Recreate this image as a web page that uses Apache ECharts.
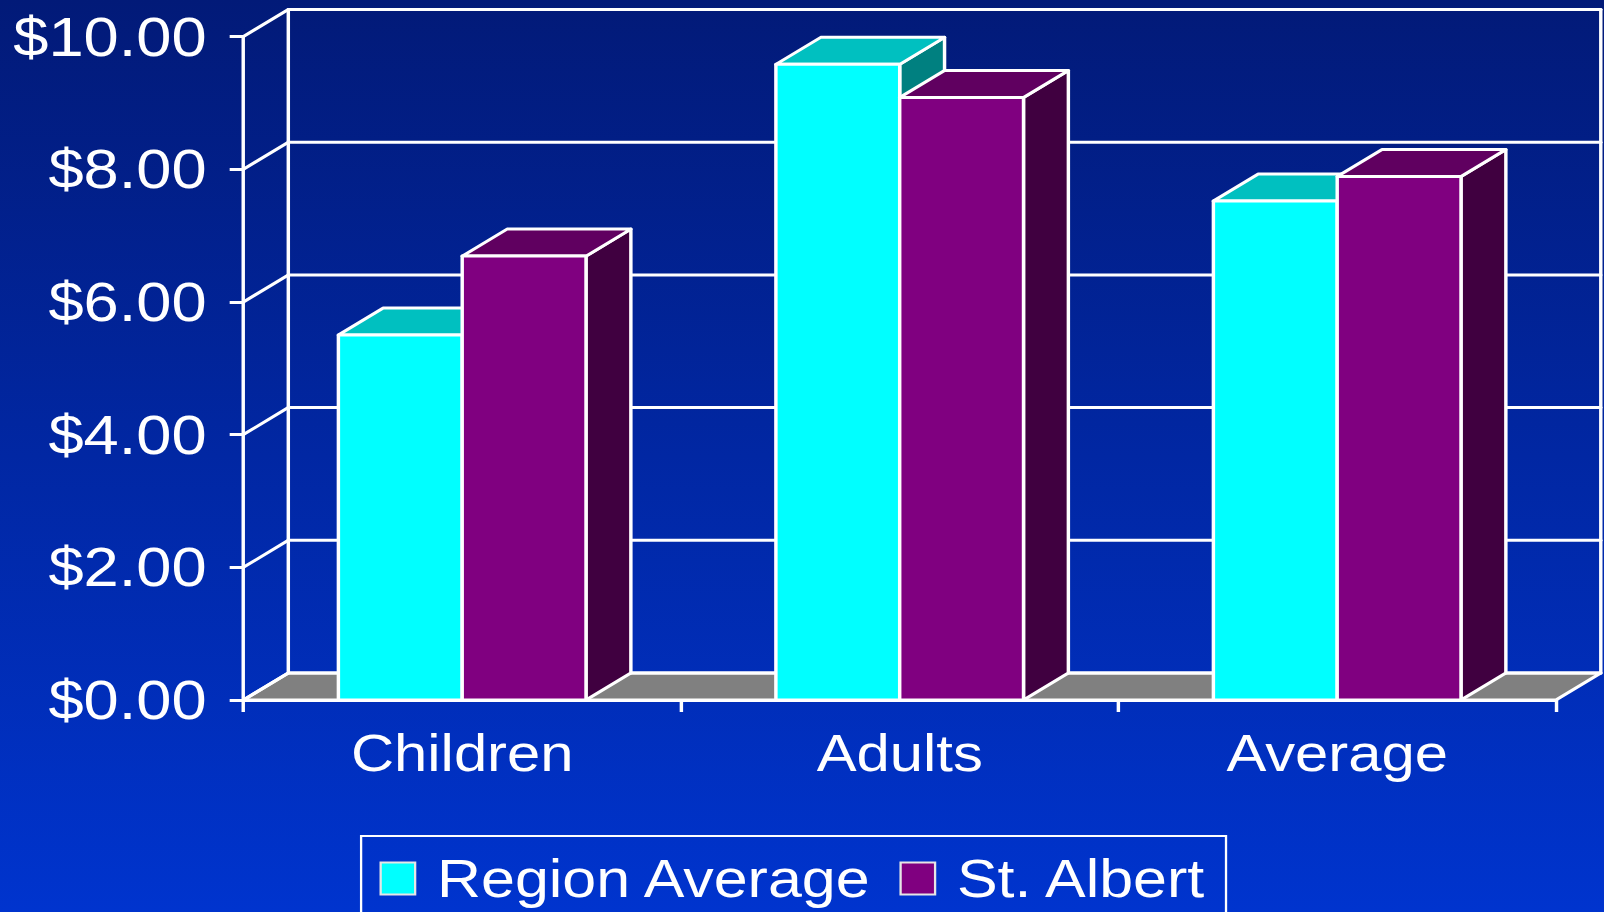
<!DOCTYPE html>
<html>
<head>
<meta charset="utf-8">
<title>Region Average vs St. Albert</title>
<script src="https://cdn.jsdelivr.net/npm/echarts@6/dist/echarts.min.js"></script>
<style>
  html, body { margin: 0; padding: 0; width: 1604px; height: 912px; overflow: hidden;
    background: linear-gradient(#021a78, #0034ce); }
  /* the chart is laid out narrower and widened horizontally, like a 4:3 slide shown wide */
  #chart { width: 1395px; height: 912px; transform: scaleX(1.15); transform-origin: 0 0; }
</style>
</head>
<body>
<div id="chart"></div>
<script>
// ---- data ----
const categories = ['Children', 'Adults', 'Average'];
const regionAverage = [5.50, 9.58, 7.52];
const stAlbert = [6.69, 9.08, 7.89];
const yTicks = [0, 2, 4, 6, 8, 10];
const seriesNames = ['Region Average', 'St. Albert'];

// ---- look ----
const FONT = '"Liberation Sans", Arial, sans-serif';
const DX = 39;        // depth offset of the 3D box, px
const DY = -27;
const BAR_SHARE = 0.283; // bar width as a share of one category band
const EDGE = 3;

const faces = [
  { front: '#00FFFF', top: '#00C0C0', side: '#008080' },
  { front: '#800080', top: '#600060', side: '#400040' }
];

function barRenderer(slot) {
  const f = faces[slot];
  return function (params, api) {
    const cat = api.value(0);
    const val = api.value(1);
    const base = api.coord([cat, 0]);
    const top = api.coord([cat, val]);
    const bw = api.size([1, 0])[0] * BAR_SHARE;
    const x0 = base[0] - bw + slot * bw;
    const x1 = x0 + bw;
    const yT = top[1], yB = base[1];
    const edge = { stroke: '#ffffff', lineWidth: EDGE, lineJoin: 'round' };
    return {
      type: 'group',
      children: [
        { type: 'polygon', shape: { points: [[x1, yT], [x1 + DX, yT + DY], [x1 + DX, yB + DY], [x1, yB]] },
          style: Object.assign({ fill: f.side }, edge) },
        { type: 'polygon', shape: { points: [[x0, yT], [x1, yT], [x1 + DX, yT + DY], [x0 + DX, yT + DY]] },
          style: Object.assign({ fill: f.top }, edge) },
        { type: 'rect', shape: { x: x0, y: yT, width: bw, height: yB - yT },
          style: Object.assign({ fill: f.front }, edge) }
      ]
    };
  };
}

// back wall grid lines, left wall diagonals and the grey floor
function wallRenderer(params, api) {
  const cs = params.coordSys;
  const left = cs.x, right = cs.x + cs.width;
  const v = api.value(1);
  const y = api.coord([0, v])[1];
  const line = { stroke: '#ffffff', lineWidth: EDGE, lineCap: 'round' };
  const children = [];
  if (v === yTicks[0]) {
    const yMax = api.coord([0, yTicks[yTicks.length - 1]])[1];
    children.push(
      { type: 'polygon', shape: { points: [[left, y], [right, y], [right + DX, y + DY], [left + DX, y + DY]] },
        style: Object.assign({ fill: '#808080', lineJoin: 'round' }, line) },
      { type: 'line', shape: { x1: left + DX, y1: yMax + DY, x2: left + DX, y2: y + DY }, style: line },
      { type: 'line', shape: { x1: right + DX, y1: yMax + DY, x2: right + DX, y2: y + DY }, style: line }
    );
  }
  children.push(
    { type: 'line', shape: { x1: left, y1: y, x2: left + DX, y2: y + DY }, style: line },
    { type: 'line', shape: { x1: left + DX, y1: y + DY, x2: right + DX, y2: y + DY }, style: line }
  );
  return { type: 'group', children: children };
}

const chart = echarts.init(document.getElementById('chart'), null, { renderer: 'svg' });

chart.setOption({
  animation: false,
  backgroundColor: {
    type: 'linear', x: 0, y: 0, x2: 0, y2: 1,
    colorStops: [{ offset: 0, color: '#021a78' }, { offset: 1, color: '#0034ce' }]
  },
  grid: { left: 211.7, right: 42, top: 36.5, bottom: 212, containLabel: false },
  xAxis: {
    type: 'category',
    data: categories,
    axisLine: { show: true, lineStyle: { color: '#ffffff', width: EDGE } },
    axisTick: { show: true, length: 12, lineStyle: { color: '#ffffff', width: EDGE } },
    axisLabel: { color: '#ffffff', fontSize: 52, fontFamily: FONT, margin: 27 },
    splitLine: { show: false }
  },
  yAxis: {
    type: 'value',
    min: 0, max: 10, interval: 2,
    axisLine: { show: true, lineStyle: { color: '#ffffff', width: EDGE } },
    axisTick: { show: true, length: 12, lineStyle: { color: '#ffffff', width: EDGE } },
    axisLabel: { color: '#ffffff', fontSize: 55, fontFamily: FONT, margin: 32,
      formatter: v => '$' + v.toFixed(2) },
    splitLine: { show: false }
  },
  legend: {
    data: seriesNames,
    left: 314, top: 836,
    orient: 'horizontal',
    icon: 'rect',
    itemWidth: 30, itemHeight: 32, itemGap: 23,
    padding: [16, 16, 60, 16],
    borderColor: '#ffffff', borderWidth: 2,
    itemStyle: { borderColor: '#e6e6e6', borderWidth: 2 },
    formatter: name => '{gap|}' + name,
    textStyle: { color: '#ffffff', fontSize: 53, fontFamily: FONT,
      rich: { gap: { width: 14 } } }
  },
  series: [
    {
      type: 'custom', name: 'walls', z: 1, silent: true,
      renderItem: wallRenderer,
      encode: { x: 0, y: 1 },
      data: yTicks.map(v => [0, v])
    },
    {
      type: 'custom', name: seriesNames[0], z: 3,
      renderItem: barRenderer(0),
      itemStyle: { color: faces[0].front },
      encode: { x: 0, y: 1 },
      data: regionAverage.map((v, i) => [i, v])
    },
    {
      type: 'custom', name: seriesNames[1], z: 3,
      renderItem: barRenderer(1),
      itemStyle: { color: faces[1].front },
      encode: { x: 0, y: 1 },
      data: stAlbert.map((v, i) => [i, v])
    }
  ]
});
</script>
</body>
</html>
